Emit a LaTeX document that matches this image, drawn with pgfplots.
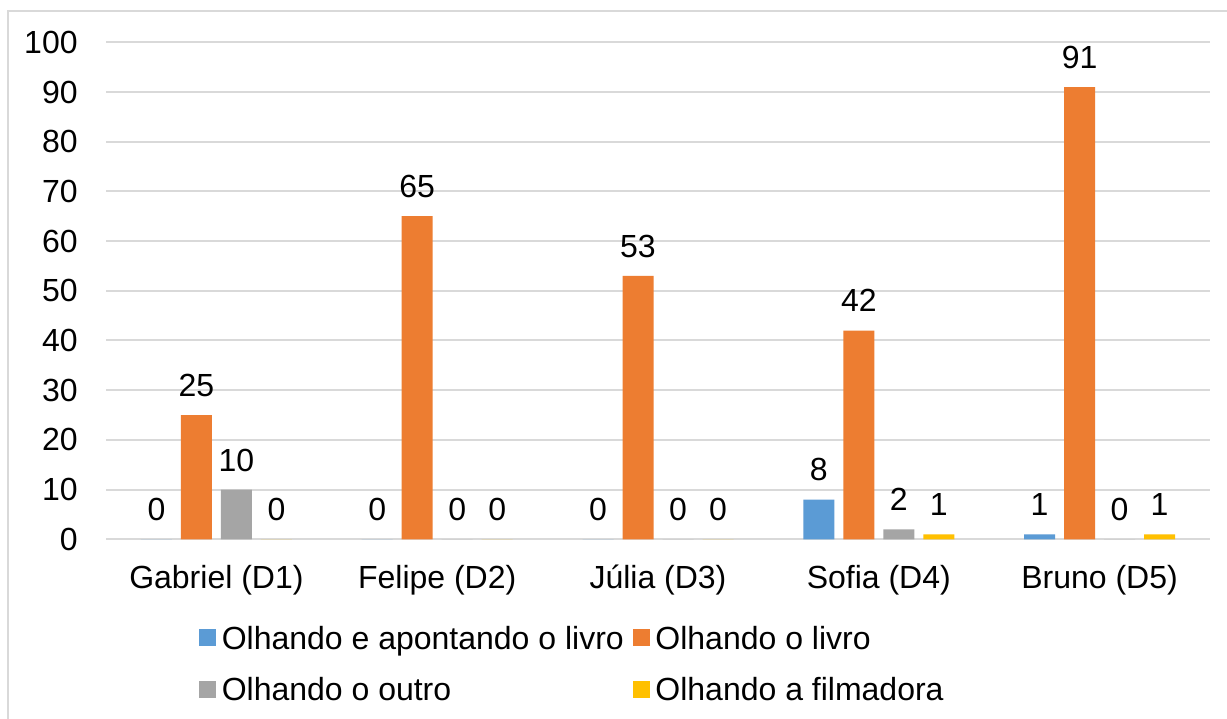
\documentclass[border=0pt]{standalone}
\usepackage{fontspec}
\setmainfont{Liberation Sans}
\usepackage{pgfplots}
\pgfplotsset{compat=1.18}
\definecolor{cBlue}{HTML}{5B9BD5}
\definecolor{cOrange}{HTML}{ED7D31}
\definecolor{cGray}{HTML}{A5A5A5}
\definecolor{cYellow}{HTML}{FFC000}
\definecolor{cGrid}{HTML}{D9D9D9}
\begin{document}
\begin{tikzpicture}
\useasboundingbox (0,0) rectangle (613.5pt,359pt);
\fill[white] (0,0) rectangle (613.5pt,359pt);
\draw[cGrid, line width=1pt] (4pt,-2pt) -- (4pt,353.5pt) -- (616pt,353.5pt);
\begin{axis}[
  at={(53pt,89.35pt)}, anchor=south west,
  scale only axis, width=552pt, height=248.5pt,
  xmin=-0.5, xmax=4.5, ymin=0, ymax=100,
  ytick={0,10,...,100},
  xtick={0,1,2,3,4},
  xticklabels={Gabriel (D1), Felipe (D2), Júlia (D3), Sofia (D4), Bruno (D5)},
  ymajorgrids, grid style={cGrid, line width=1pt},
  axis line style={draw=none},
  major tick length=0pt,
  tick style={draw=none},
  /pgf/number format/assume math mode=true,
  ticklabel style={font=\fontsize{16}{19}\selectfont},
  yticklabel style={anchor=east, inner sep=0pt, xshift=-14pt},
  xticklabel style={anchor=base, inner sep=0pt, yshift=-24.5pt},
  ybar, bar width=15.5pt,
  nodes near coords,
  nodes near coords style={font=\fontsize{16}{19}\selectfont, anchor=base, inner sep=0pt, yshift=9.3pt, text=black},
  legend columns=2,
  legend style={draw=none, fill=none, inner sep=0pt,
    at={(axis description cs:0.0842,-0.1744)}, anchor=north west,
    cells={anchor=west},
    nodes={inner sep=0pt, text height=11.5pt, text depth=3.5pt},
    row sep=10.65pt,
    font=\fontsize{16}{19}\selectfont,
    /tikz/every odd column/.append style={column sep=2.7pt},
    /tikz/every even column/.append style={column sep=4.6pt}},
  legend image code/.code={\fill[#1] (0pt,-2.52pt) rectangle (8.5pt,5.98pt);},
]
\addplot[fill=cBlue, draw=none, bar shift=-30pt] coordinates {(0,0) (1,0) (2,0) (3,8) (4,1)};
\addplot[fill=cOrange, draw=none, bar shift=-10pt] coordinates {(0,25) (1,65) (2,53) (3,42) (4,91)};
\addplot[fill=cGray, draw=none, bar shift=10pt] coordinates {(0,10) (1,0) (2,0) (3,2) (4,0)};
\addplot[fill=cYellow, draw=none, bar shift=30pt] coordinates {(0,0) (1,0) (2,0) (3,1) (4,1)};
\legend{Olhando e apontando o livro, Olhando o livro, Olhando o outro, Olhando a filmadora}
\end{axis}
\end{tikzpicture}
\end{document}
